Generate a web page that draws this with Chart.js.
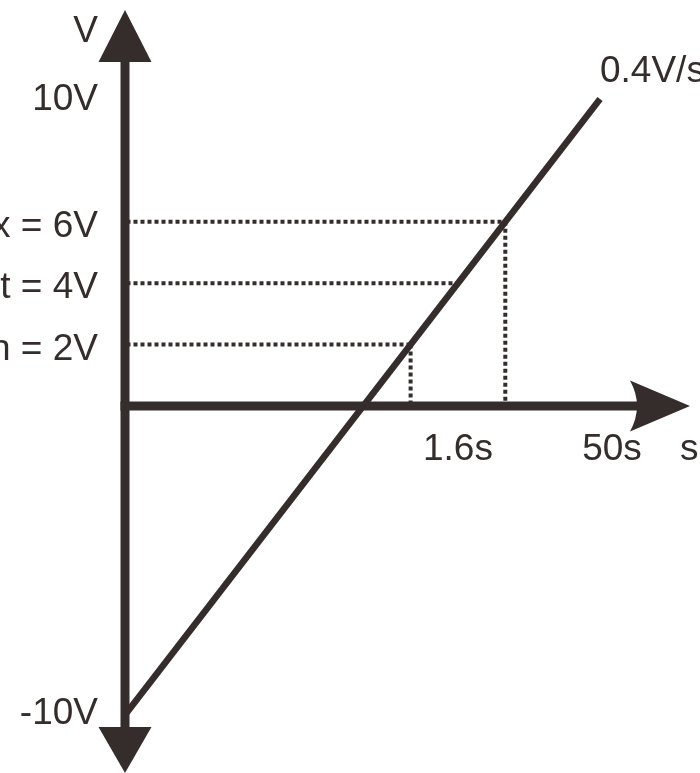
<!DOCTYPE html>
<html>
<head>
<meta charset="utf-8">
<script src="https://cdn.jsdelivr.net/npm/chart.js@4/dist/chart.umd.min.js"></script>
<style>
  html, body { margin: 0; padding: 0; background: #ffffff; }
  #c { display: block; }
</style>
</head>
<body>
<canvas id="c" width="700" height="773"></canvas>
<script>
// ---- data ----
const rampTime = [0, 50];            // s
const rampVolts = [-10, 10];         // V
const levelVolts = [2, 4, 6];        // V
const levelTimes = [30, 35, 40];     // s where ramp reaches each level
const levelNames = ['Vmin = 2V', 'Vset = 4V', 'Vmax = 6V'];
const levelDrop = [true, false, true];
const rangeVolts = [10, -10];
const rangeNames = ['10V', '-10V'];
const timeTickValues = [35, 50];
const timeTickNames = ['1.6s', '50s'];
const slopeName = '0.4V/s';
const xAxisTitle = 's';
const yAxisTitle = 'V';

// ---- styling ----
const INK = '#342d2b';
const FONT = '37px "Liberation Sans", Arial, sans-serif';

const datasets = [];
levelVolts.forEach((v, i) => {
  datasets.push({
    data: [{x: rampTime[0], y: v}, {x: levelTimes[i], y: v}],
    borderColor: INK, borderWidth: 4, borderDash: [4, 3],
    showLine: true, pointRadius: 0, borderCapStyle: 'butt'
  });
  if (levelDrop[i]) {
    datasets.push({
      data: [{x: levelTimes[i], y: v}, {x: levelTimes[i], y: 0}],
      borderColor: INK, borderWidth: 4, borderDash: [4, 3],
      showLine: true, pointRadius: 0, borderCapStyle: 'butt'
    });
  }
});
datasets.push({
  data: rampTime.map((t, i) => ({x: t, y: rampVolts[i]})),
  borderColor: INK, borderWidth: 6.5, showLine: true, pointRadius: 0,
  borderCapStyle: 'butt'
});

const diagramPlugin = {
  id: 'diagram',
  afterDatasetsDraw(chart) {
    const ctx = chart.ctx;
    const xs = chart.scales.x, ys = chart.scales.y, ca = chart.chartArea;
    const ax = xs.getPixelForValue(0) - 1.5;   // vertical axis x
    const ay = ys.getPixelForValue(0);         // horizontal axis y
    ctx.save();
    ctx.fillStyle = INK;
    ctx.strokeStyle = INK;
    // vertical axis shaft
    ctx.fillRect(ax - 4.5, ca.top + 55, 9, ca.bottom - ca.top - 100);
    // top arrow
    ctx.beginPath();
    ctx.moveTo(ax, ca.top + 10);
    ctx.lineTo(ax + 26.5, ca.top + 62);
    ctx.lineTo(ax - 26.5, ca.top + 62);
    ctx.closePath(); ctx.fill();
    // bottom arrow
    ctx.beginPath();
    ctx.moveTo(ax, ca.bottom);
    ctx.lineTo(ax + 26.5, ca.bottom - 46);
    ctx.lineTo(ax - 26.5, ca.bottom - 46);
    ctx.closePath(); ctx.fill();
    // horizontal axis shaft
    const tipX = ca.right - 10;
    ctx.fillRect(ax - 4.5, ay - 4.5, tipX - 50 - (ax - 4.5), 9);
    // right arrow with slightly concave back
    ctx.beginPath();
    ctx.moveTo(tipX, ay);
    ctx.lineTo(tipX - 60, ay - 25.5);
    ctx.quadraticCurveTo(tipX - 46, ay, tipX - 60, ay + 25.5);
    ctx.closePath(); ctx.fill();

    // texts
    ctx.font = FONT;
    ctx.textBaseline = 'alphabetic';
    ctx.textAlign = 'right';
    const labelRight = ax - 27;
    ctx.fillText(yAxisTitle, labelRight, ca.top + 42);
    rangeNames.forEach((n, i) => {
      ctx.fillText(n, labelRight, ys.getPixelForValue(rangeVolts[i]) + 11);
    });
    levelNames.forEach((n, i) => {
      ctx.fillText(n, labelRight, ys.getPixelForValue(levelVolts[i]) + 15);
    });
    ctx.textAlign = 'center';
    timeTickNames.forEach((n, i) => {
      let px = xs.getPixelForValue(timeTickValues[i]);
      if (i === timeTickNames.length - 1) px += 12;
      ctx.fillText(n, px, ay + 54);
    });
    ctx.textAlign = 'left';
    ctx.fillText(xAxisTitle, ca.right - 20, ay + 54);
    ctx.fillText(slopeName, xs.getPixelForValue(rampTime[1]), ys.getPixelForValue(rampVolts[1]) - 17);
    ctx.restore();
  }
};

new Chart(document.getElementById('c'), {
  type: 'scatter',
  data: { datasets },
  options: {
    responsive: false,
    devicePixelRatio: 1,
    animation: false,
    layout: { padding: 0 },
    plugins: { legend: { display: false }, tooltip: { enabled: false } },
    scales: {
      x: { type: 'linear', display: false, min: -13.358, max: 60.559 },
      y: { type: 'linear', display: false, min: -11.954, max: 13.225 }
    },
    elements: { line: { tension: 0 } }
  },
  plugins: [diagramPlugin]
});
</script>
</body>
</html>
